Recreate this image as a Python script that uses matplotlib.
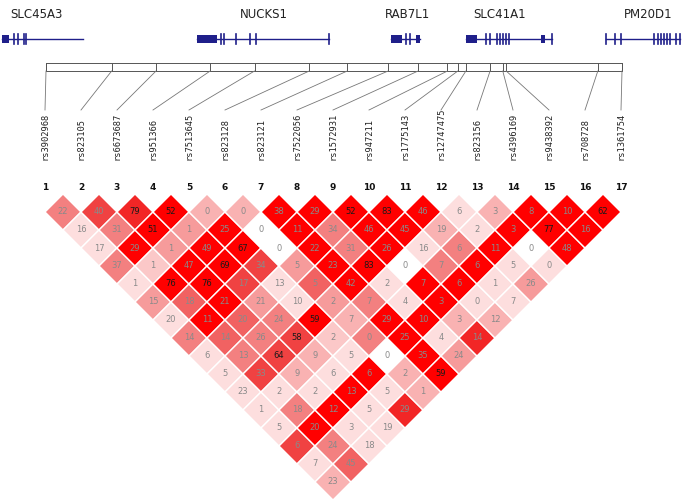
import matplotlib
matplotlib.use("Agg")
import matplotlib.pyplot as plt
from matplotlib.patches import Polygon, Rectangle
import numpy as np

# ---- data ----
snp_names = ["rs3902968", "rs823105", "rs6673687", "rs951366", "rs7513645",
             "rs823128", "rs823121", "rs7522056", "rs1572931", "rs947211",
             "rs1775143", "rs12747475", "rs823156", "rs4396169", "rs9438392",
             "rs708728", "rs1361754"]
# relative map position of each SNP along the region (0..1)
snp_map = [0.0, 0.114, 0.191, 0.285, 0.362, 0.457, 0.523, 0.594, 0.646,
           0.697, 0.715, 0.729, 0.771, 0.793, 0.799, 0.958, 1.0]

# pairwise LD values (row i: pairs with SNP i+1 .. 17)
ld_rows = [
    [22, 16, 17, 37, 1, 15, 20, 14, 6, 5, 23, 1, 5, 6, 7, 23],
    [40, 31, 29, 1, 76, 18, 11, 14, 13, 33, 2, 18, 20, 24, 45],
    [79, 51, 1, 47, 76, 21, 20, 26, 64, 9, 2, 12, 3, 18],
    [52, 1, 49, 69, 17, 21, 24, 58, 9, 6, 13, 5, 19],
    [0, 25, 67, 34, 13, 10, 59, 2, 5, 6, 5, 29],
    [0, 0, 0, 5, 5, 2, 7, 0, 0, 2, 1],
    [38, 11, 22, 23, 42, 7, 29, 25, 35, 59],
    [29, 34, 31, 83, 2, 4, 10, 4, 24],
    [52, 46, 26, 0, 7, 3, 3, 14],
    [83, 45, 16, 7, 6, 0, 12],
    [46, 19, 6, 6, 1, 7],
    [6, 2, 11, 5, 26],
    [3, 3, 0, 0],
    [8, 77, 48],
    [10, 16],
    [62],
]
# colour strength of each cell (0 white .. 5 full red)
shade_rows = [
    [3, 1, 1, 3, 1, 2.5, 1, 3, 1, 1, 1, 1, 1, 4, 1, 2],
    [4, 3, 5, 1.5, 5, 3.5, 5, 3.5, 3, 4, 1, 3, 5, 3, 3.5],
    [4.5, 5, 2.5, 5, 5, 5, 3.5, 3, 4, 2, 1, 5, 1, 1],
    [5, 2.5, 5, 5, 4, 2.5, 3, 4, 2, 1, 5, 1, 1],
    [2, 5, 5, 4, 1, 1, 5, 1.5, 1, 5, 1, 4.5],
    [2, 0, 0, 2.5, 3.5, 2.5, 2, 3, 0, 2, 2],
    [5, 5, 5, 5, 5, 3, 5, 5, 5, 5],
    [5, 3, 3, 5, 1, 1, 5, 1, 2.5],
    [5, 5, 5, 0, 5, 5, 2, 4.5],
    [5, 5, 1, 3, 5, 1, 2],
    [5, 2, 3, 5, 1, 1],
    [1, 1, 5, 1, 2.5],
    [2, 5, 0, 1],
    [5, 5, 5],
    [5, 5],
    [5],
]

gene_names = ["SLC45A3", "NUCKS1", "RAB7L1", "SLC41A1", "PM20D1"]
gene_label_x = [36, 264, 408, 500, 648]
gene_span = [(2, 83), (197, 329), (391, 420), (466, 552), (606, 680)]
gene_boxes = [[(2, 9)], [(197, 217)], [(391, 402), (416, 420)],
              [(466, 477), (541, 545)], []]
gene_exons = [[14, 18, 24, 26],
              [221, 224, 236, 250, 256, 329],
              [406, 410],
              [486, 490, 497, 500, 503, 506, 509, 552],
              [606, 615, 621, 654, 658, 661, 664, 667, 670, 676, 680]]

# ---- layout ----
x0, step = 45, 36          # triangle SNP columns
y_tri = 212                # centre row of adjacent pairs
bar_left, bar_right = 46, 622
bar_top, bar_bot = 63, 71
gene_y = 39
navy = "#1f1f8a"

shade_rgb = {0: (255, 255, 255), 1: (253, 222, 222), 1.5: (251, 200, 200),
             2: (249, 178, 178), 2.5: (246, 155, 155), 3: (243, 128, 128),
             3.5: (241, 98, 98), 4: (240, 66, 66), 4.5: (242, 38, 38),
             5: (255, 0, 0)}

fig = plt.figure(figsize=(6.85, 4.99), dpi=100)
ax = fig.add_axes([0, 0, 1, 1])
ax.set_xlim(0, 685)
ax.set_ylim(499, 0)
ax.axis("off")

# gene track
for k, name in enumerate(gene_names):
    ax.text(gene_label_x[k], 14, name, ha="center", va="center",
            fontsize=8.5, color="#222222")
    s, e = gene_span[k]
    ax.plot([s, e], [gene_y, gene_y], color=navy, lw=1)
    for (b0, b1) in gene_boxes[k]:
        ax.add_patch(Rectangle((b0, gene_y - 4), b1 - b0, 8, color=navy, lw=0))
    for ex in gene_exons[k]:
        ax.plot([ex, ex], [gene_y - 5, gene_y + 5], color=navy, lw=1.2)

# SNP map bar and connectors
ax.add_patch(Rectangle((bar_left, bar_top), bar_right - bar_left,
                       bar_bot - bar_top, fill=False, ec="#555555", lw=0.7))
n = len(snp_names)
for k in range(n):
    mx = bar_left + snp_map[k] * (bar_right - bar_left)
    lx = x0 + step * k
    ax.plot([mx, mx], [bar_top, bar_bot], color="#555555", lw=0.7)
    ax.plot([mx, lx], [bar_bot, 110], color="#777777", lw=0.6)
    ax.text(lx, 160, snp_names[k], rotation=90, ha="center", va="bottom",
            fontsize=6.3, family="DejaVu Sans Mono", color="#222222")
    ax.text(lx, 188, str(k + 1), ha="center", va="center",
            fontsize=6.5, fontweight="bold", color="#111111")

# LD triangle
h = step / 2
for i in range(n - 1):
    for d, val in enumerate(ld_rows[i]):
        j = i + d + 1
        cx = x0 + step * (i + j) / 2
        cy = y_tri + d * h
        r, g, b = shade_rgb[shade_rows[i][d]]
        ax.add_patch(Polygon([(cx - h, cy), (cx, cy - h), (cx + h, cy),
                              (cx, cy + h)], closed=True,
                             fc=(r / 255, g / 255, b / 255),
                             ec="white", lw=1.0))
        tc = "#1a1a1a" if val >= 50 else "#8a8a8a"
        ax.text(cx, cy, str(val), ha="center", va="center",
                fontsize=6, color=tc)

fig.savefig("out.png", dpi=100)
